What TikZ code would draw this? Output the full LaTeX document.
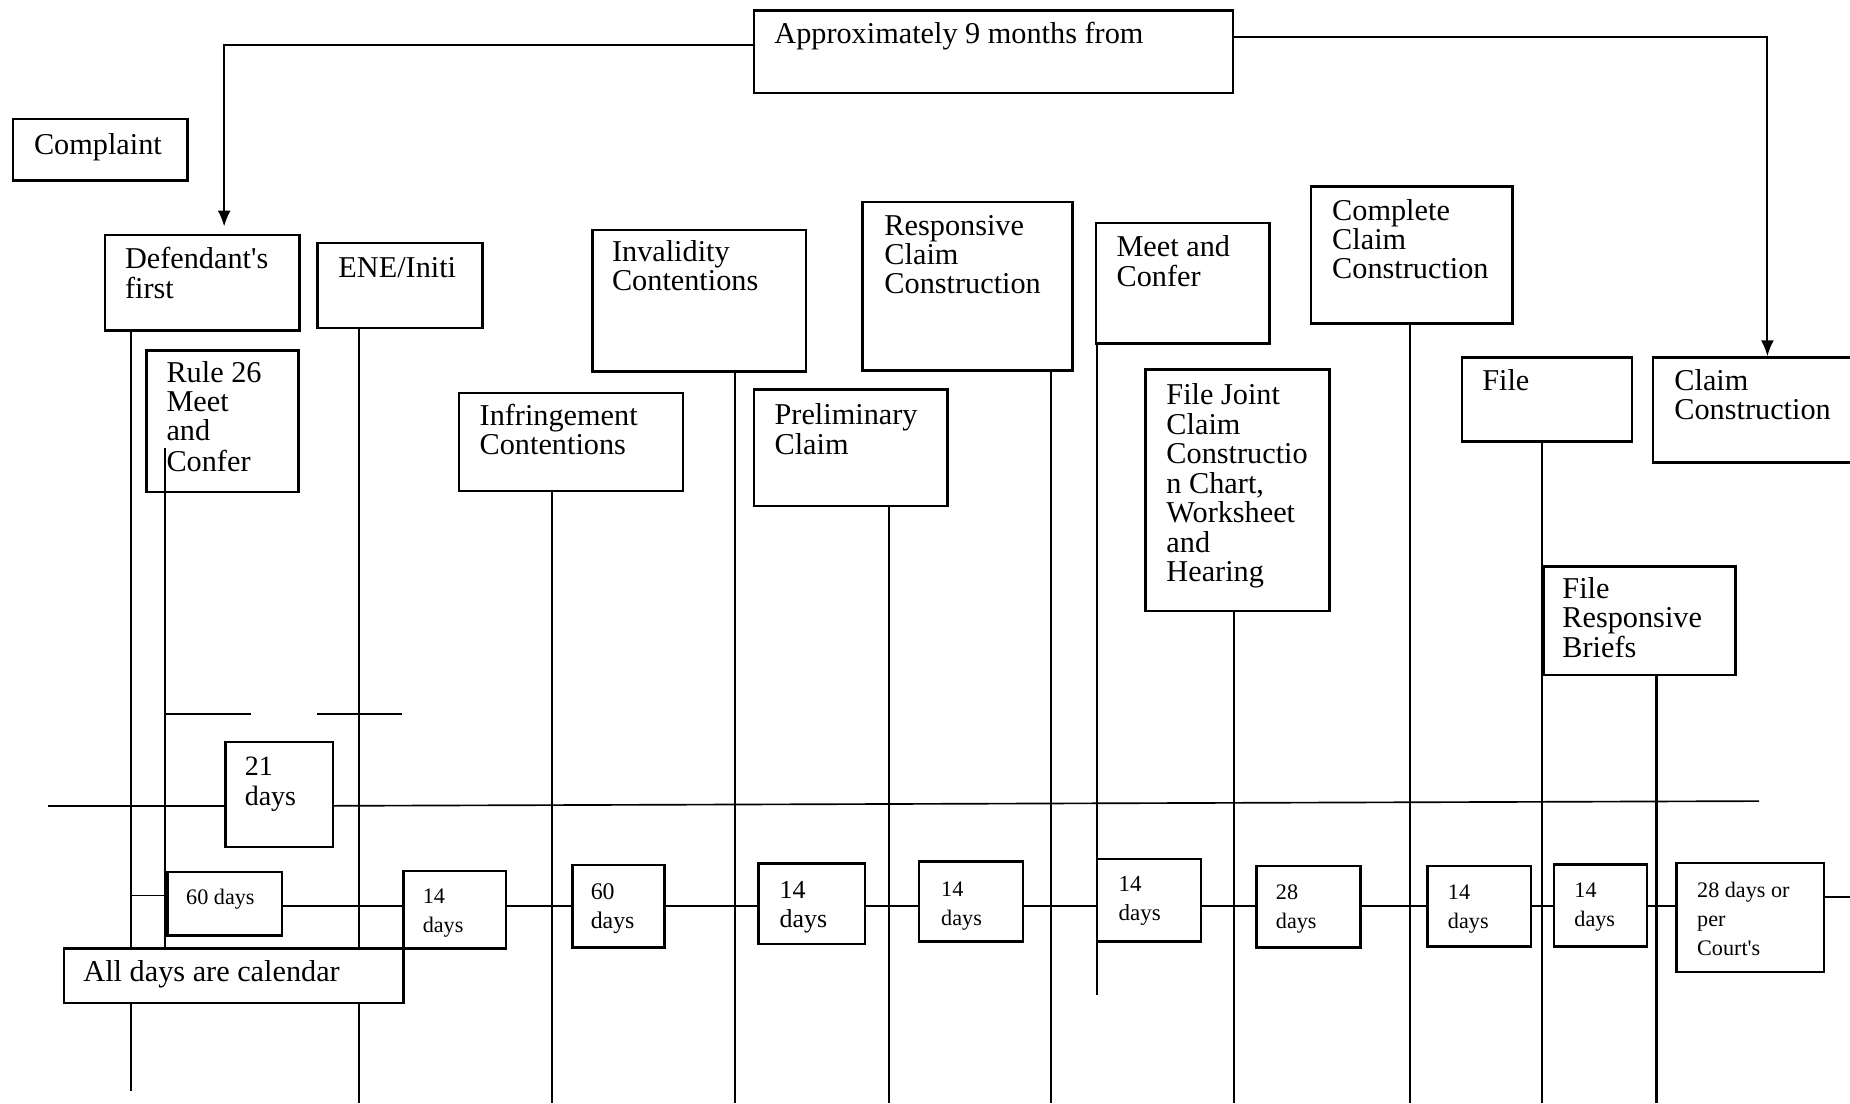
\documentclass[tikz,border=0pt]{standalone}
\usepackage{fontspec}
\setmainfont{Liberation Serif}
\usetikzlibrary{calc,arrows.meta}

\newcommand{\stack}[1]{\begin{tabular}[t]{@{}l@{}}#1\end{tabular}}

\tikzset{
  stage/.style={draw, rectangle, fill=white, line width=1.2pt, anchor=north west, inner sep=0pt},
  bigtxt/.style={anchor=base west, inner sep=0pt, font=\fontsize{14.6}{14}\selectfont},
  daytxt/.style={bigtxt, font=\fontsize{10.7}{14}\selectfont},
  rail/.style={line width=1pt},
  link/.style={line width=0.8pt},
}

\begin{document}
\begin{tikzpicture}[x=0.02cm, y=-0.02cm]
\useasboundingbox (0,0) rectangle (1568,935);
\clip (0,0) rectangle (1568,935);

% steps
\draw node [stage, minimum width=81.2mm, minimum height=14mm] (approx) at (638,8) {};
\draw node [bigtxt] (approxtxt) at ($ (approx.north west)+(18,29)$) {Approximately 9 months from};
\draw node [stage, minimum width=29.6mm, minimum height=10.4mm] (complaint) at (10,100) {};
\draw node [bigtxt] (complainttxt) at ($ (complaint.north west)+(18.5,31)$) {Complaint};
\draw node [stage, minimum width=33mm, minimum height=16.2mm] (defend) at (88,198) {};
\draw node [bigtxt] (defendtxt) at ($ (defend.north west)+(17.6,29.4)$) {\stack{Defendant\textquotesingle s\\first}};
\draw node [stage, minimum width=28mm, minimum height=14.4mm] (ene) at (268,205) {};
\draw node [bigtxt] (enetxt) at ($ (ene.north west)+(18.5,30.4)$) {ENE/Initi};
\draw node [stage, minimum width=25.8mm, minimum height=24mm] (rule) at (123,296) {};
\draw node [bigtxt] (ruletxt) at ($ (rule.north west)+(17.8,28)$) {\stack{Rule 26\\Meet\\and\\Confer}};
\draw node [stage, minimum width=38mm, minimum height=16.6mm] (infr) at (388,332) {};
\draw node [bigtxt] (infrtxt) at ($ (infr.north west)+(18.2,29)$) {\stack{Infringement\\Contentions}};
\draw node [stage, minimum width=36.2mm, minimum height=24mm] (inval) at (501,194) {};
\draw node [bigtxt] (invaltxt) at ($ (inval.north west)+(17.4,27.8)$) {\stack{Invalidity\\Contentions}};
\draw node [stage, minimum width=35.6mm, minimum height=28.6mm] (respons) at (730,170) {};
\draw node [bigtxt] (responstxt) at ($ (respons.north west)+(19.3,29.2)$) {\stack{Responsive\\Claim\\Construction}};
\draw node [stage, minimum width=32.8mm, minimum height=19.8mm] (prelim) at (638,329) {};
\draw node [bigtxt] (prelimtxt) at ($ (prelim.north west)+(18.2,31.2)$) {\stack{Preliminary\\Claim}};
\draw node [stage, minimum width=29.4mm, minimum height=20.4mm] (meet) at (928,188) {};
\draw node [bigtxt] (meettxt) at ($ (meet.north west)+(18,29.6)$) {\stack{Meet and\\Confer}};
\draw node [stage, minimum width=31.2mm, minimum height=41mm] (joint) at (970,312) {};
\draw node [bigtxt] (jointtxt) at ($ (joint.north west)+(18.3,31)$) {\stack{File Joint\\Claim\\Constructio\\n Chart,\\Worksheet\\and\\Hearing}};
\draw node [stage, minimum width=34.2mm, minimum height=23.2mm] (complete) at (1110,157) {};
\draw node [bigtxt] (completetxt) at ($ (complete.north west)+(18.8,29.5)$) {\stack{Complete\\Claim\\Construction}};
\draw node [stage, minimum width=28.8mm, minimum height=14.2mm] (file) at (1238,302) {};
\draw node [bigtxt] (filetxt) at ($ (file.north west)+(18,28.6)$) {File};
\draw node [stage, minimum width=38mm, minimum height=17.8mm] (claim) at (1400,302) {};
\draw node [bigtxt] (claimtxt) at ($ (claim.north west)+(18.8,29)$) {\stack{Claim\\Construction}};
\draw node [stage, minimum width=32.6mm, minimum height=18.4mm] (briefs) at (1307,479) {};
\draw node [bigtxt] (briefstxt) at ($ (briefs.north west)+(16.9,28.3)$) {\stack{File\\Responsive\\Briefs}};

% day counts
\draw node [stage, minimum width=18.2mm, minimum height=17.8mm] (d21) at (190,628) {};
\draw node [bigtxt, font=\fontsize{13.5}{14}\selectfont] (d21txt) at ($ (d21.north west)+(17.1,29.7)$) {\stack{21\\days}};
\draw node [stage, minimum width=19.4mm, minimum height=10.8mm] (d60a) at (141,738) {};
\draw node [daytxt] (d60atxt) at ($ (d60a.north west)+(16.5,29)$) {60 days};
\draw node [stage, minimum width=17.4mm, minimum height=13.2mm] (d14a) at (341,737) {};
\draw node [daytxt] (d14atxt) at ($ (d14a.north west)+(17,29)$) {\stack{14\\days}};
\draw node [stage, minimum width=15.6mm, minimum height=14mm] (d60b) at (484,732) {};
\draw node [daytxt, font=\fontsize{11.5}{14}\selectfont] (d60btxt) at ($ (d60b.north west)+(16.4,30.3)$) {\stack{60\\days}};
\draw node [stage, minimum width=18mm, minimum height=13.6mm] (d14b) at (642,731) {};
\draw node [daytxt, font=\fontsize{12.5}{14}\selectfont] (d14btxt) at ($ (d14b.north west)+(18.4,30.3)$) {\stack{14\\days}};
\draw node [stage, minimum width=17.6mm, minimum height=13.6mm] (d14c) at (778,729) {};
\draw node [daytxt] (d14ctxt) at ($ (d14c.north west)+(19.4,31)$) {\stack{14\\days}};
\draw node [stage, minimum width=17.7mm, minimum height=14mm] (d14d) at (928.5,727) {};
\draw node [daytxt, font=\fontsize{11.1}{14}\selectfont] (d14dtxt) at ($ (d14d.north west)+(19.3,28.9)$) {\stack{14\\days}};
\draw node [stage, minimum width=17.6mm, minimum height=13.8mm] (d28) at (1064,733) {};
\draw node [daytxt] (d28txt) at ($ (d28.north west)+(17.1,29.3)$) {\stack{28\\days}};
\draw node [stage, minimum width=17.5mm, minimum height=13.6mm] (d14e) at (1209,733) {};
\draw node [daytxt] (d14etxt) at ($ (d14e.north west)+(17.9,29)$) {\stack{14\\days}};
\draw node [stage, minimum width=15.8mm, minimum height=13.9mm] (d14f) at (1316,731.5) {};
\draw node [daytxt] (d14ftxt) at ($ (d14f.north west)+(18.1,29.1)$) {\stack{14\\days}};
\draw node [stage, minimum width=25mm, minimum height=18.5mm] (dcourt) at (1420,730.5) {};
\draw node [daytxt] (dcourttxt) at ($ (dcourt.north west)+(18.1,30.2)$) {\stack{28 days or\\per\\Court\textquotesingle s}};
\draw node [stage, minimum width=57.6mm, minimum height=9.2mm] (note) at (53,803) {};
\draw node [bigtxt] (notetxt) at ($ (note.north west)+(17.4,29)$) {All days are calendar};

% time lines
\draw[rail] (defend.south -| 111,0) -- (note.north -| 111,0);
\draw[rail] (note.south -| 111,0) -- (111,925);
\draw[rail] (140,380) -- (note.north -| 140,0);
\draw[rail] (ene.south -| 304,0) -- (note.north -| 304,0);
\draw[rail] (note.south -| 304,0) -- (304,935);
\foreach \stp/\x in {infr/468, inval/623, prelim/753.5, respons/891, joint/1046, complete/1195, file/1307, briefs/1404}
  \draw[rail] (\stp.south -| \x,0) -- (\x,935);
\draw[rail] (meet.south -| 930,0) -- (930,843);

\draw[link] (41,683) -- (d21.west |- 0,683);
\draw[link] (d21.east |- 0,683) -- (1491,679);
\draw[link] (140,605) -- (213,605);
\draw[link] (269,605) -- (341,605);
\draw[link] (111,759) -- (d60a.west |- 0,759);

\coordinate (row) at (0,768);
\foreach \a/\b in {d60a/d14a, d14a/d60b, d60b/d14b, d14b/d14c, d14c/d14d, d14d/d28, d28/d14e, d14e/d14f, d14f/dcourt}
  \draw[link] (\a.east |- row) -- (\b.west |- row);
\draw[link] (dcourt.east |- 0,760) -- (1568,760);

% nine months
\draw[rail, -{Latex[length=2.7mm, width=2.2mm]}] ($ (approx.west)+(0,-6)$) -| ($ (defend.north -| 190,0)+(0,-6)$);
\draw[rail, -{Latex[length=2.7mm, width=2.2mm]}] ($ (approx.east)+(0,-13)$) -| (claim.north -| 1498,0);

\end{tikzpicture}
\end{document}
